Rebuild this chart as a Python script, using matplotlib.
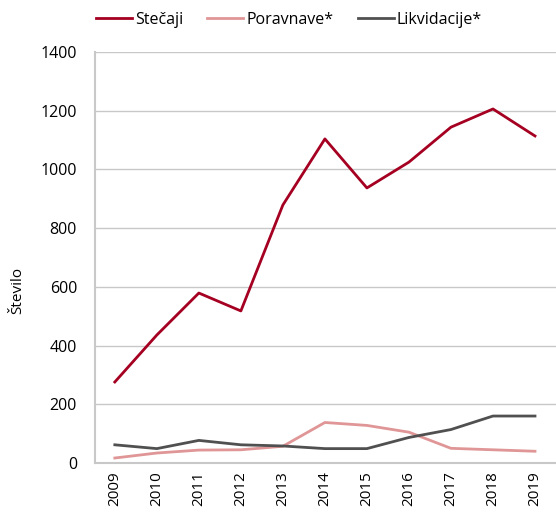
import matplotlib
matplotlib.use("Agg")
import matplotlib.pyplot as plt

years = ["2009", "2010", "2011", "2012", "2013", "2014", "2015", "2016", "2017", "2018", "2019"]
stecaji = [276, 436, 579, 518, 879, 1104, 937, 1025, 1144, 1206, 1114]
poravnave = [17, 34, 44, 45, 57, 138, 128, 105, 50, 45, 40]
likvidacije = [62, 49, 77, 62, 58, 49, 49, 87, 114, 160, 160]

plt.rcParams['font.family'] = ['Open Sans', 'DejaVu Sans']

fig = plt.figure(figsize=(5.56, 5.12), dpi=100)
ax = fig.add_axes([0.171, 0.0957, 0.829, 0.8027])

x = range(len(years))
ax.plot(x, stecaji, color='#A50021', lw=2, label='Stečaji')
ax.plot(x, poravnave, color='#E09696', lw=2, label='Poravnave*')
ax.plot(x, likvidacije, color='#505050', lw=2, label='Likvidacije*')

ax.set_xlim(-0.47, 10.5)
ax.set_ylim(0, 1400)
ax.set_yticks(range(0, 1401, 200))
ax.set_xticks(list(x))
ax.set_xticklabels(years, rotation=90, fontsize=11)
ax.tick_params(axis='y', labelsize=11.5, length=0, pad=13)
ax.tick_params(axis='x', length=0, pad=6)
ax.grid(axis='y', color='#C8C8C8', lw=1)
ax.set_axisbelow(True)
for s in ['top', 'right']:
    ax.spines[s].set_visible(False)
ax.spines['left'].set_color('#C8C8C8')
ax.spines['bottom'].set_color('#C8C8C8')
ax.spines['left'].set_linewidth(1.5)
ax.spines['bottom'].set_linewidth(1.5)

ax.set_ylabel('Število', fontsize=11)
ax.yaxis.set_label_coords(-0.152, 0.42)

fig.legend(loc='center', bbox_to_anchor=(0.52, 0.961), ncol=3, frameon=False,
           fontsize=11.5, handlelength=2.25, handletextpad=0.2, columnspacing=1.5)

fig.savefig('out.png', dpi=100)
